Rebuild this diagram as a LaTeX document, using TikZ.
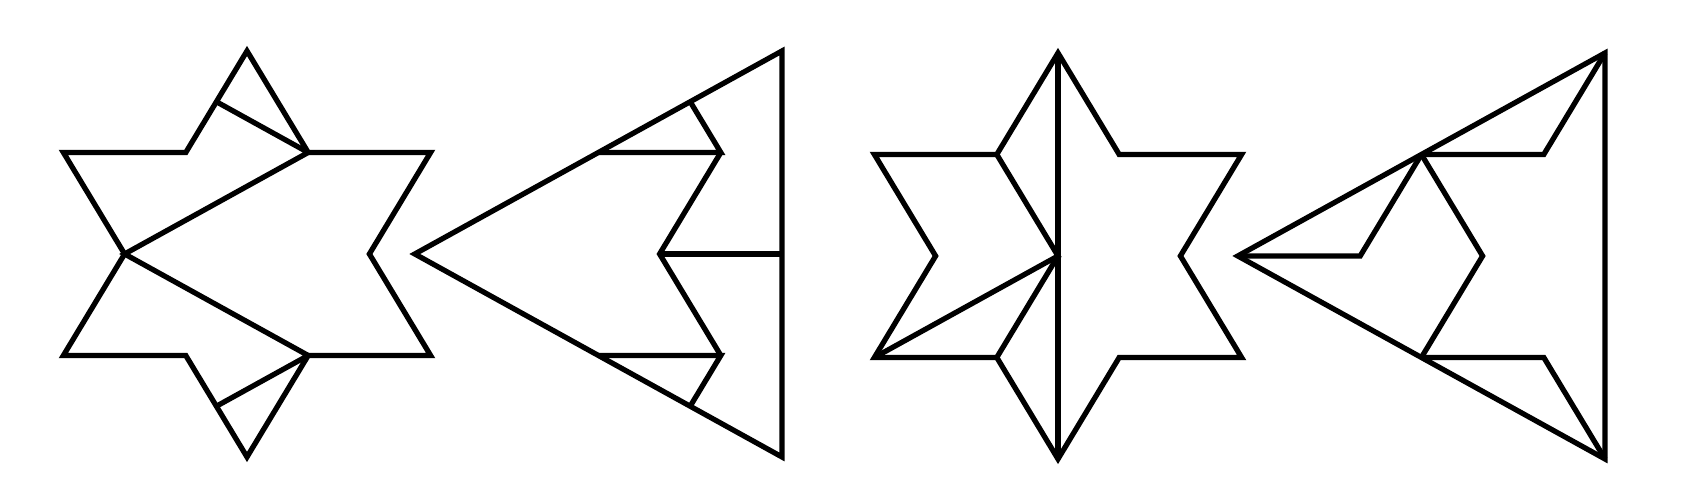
\documentclass[tikz,border=0pt]{standalone}
\usepackage{tikz}
\tikzset{%
  fig/.style = {x=0.306cm, y=1.015cm},
  outline/.style = {draw, line width=1.5pt, line join=miter},
  cut/.style = {draw, line width=1.5pt, line join=miter}
}

\begin{document}
\begin{tikzpicture}
  \useasboundingbox (0,0) rectangle (17.08,4.89);
  % star cut into the arrow
  \begin{scope}[shift={(2.47cm,2.35cm)}, fig]
    \draw[outline] (0,2) -- (2,1) -- (6,1) -- (4,0) -- (6,-1) -- (2,-1)
      -- (0,-2) -- (-2,-1) -- (-6,-1) -- (-4,0) -- (-6,1) -- (-2,1) -- cycle;
    \draw[cut] (-1,1.5) -- (2,1) -- (-4,0) -- (2,-1) -- (-1,-1.5);
  \end{scope}
  % the same pieces as a triangle
  \begin{scope}[shift={(7.82cm,2.35cm)}, fig]
    \draw[outline] (-12,0) -- (0,2) -- (0,-2) -- cycle;
    \draw[cut] (-3,1.5) -- (-2,1) -- (-6,1);
    \draw[cut] (-2,1) -- (-4,0) -- (-2,-1);
    \draw[cut] (-4,0) -- (0,0);
    \draw[cut] (-6,-1) -- (-2,-1) -- (-3,-1.5);
  \end{scope}
  % star cut down the middle
  \begin{scope}[shift={(10.58cm,2.33cm)}, fig]
    \draw[outline] (0,2) -- (2,1) -- (6,1) -- (4,0) -- (6,-1) -- (2,-1)
      -- (0,-2) -- (-2,-1) -- (-6,-1) -- (-4,0) -- (-6,1) -- (-2,1) -- cycle;
    \draw[cut] (0,2) -- (0,-2);
    \draw[cut] (-2,1) -- (0,0) -- (-6,-1);
    \draw[cut] (0,0) -- (-2,-1);
  \end{scope}
  % and its triangle
  \begin{scope}[shift={(16.05cm,2.33cm)}, fig]
    \draw[outline] (-12,0) -- (0,2) -- (0,-2) -- cycle;
    \draw[cut] (-6,1) -- (-2,1) -- (0,2);
    \draw[cut] (-6,-1) -- (-2,-1) -- (0,-2);
    \draw[cut] (-12,0) -- (-8,0) -- (-6,1);
    \draw[cut] (-6,1) -- (-4,0) -- (-6,-1);
  \end{scope}
\end{tikzpicture}
\end{document}
